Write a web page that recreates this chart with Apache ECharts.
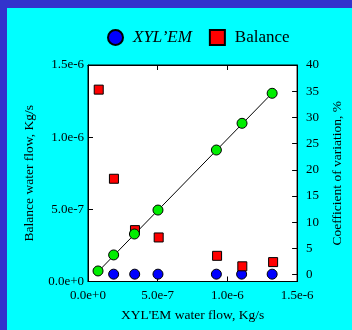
<!DOCTYPE html>
<html>
<head>
<meta charset="utf-8">
<script src="https://cdn.jsdelivr.net/npm/echarts@6/dist/echarts.min.js"></script>
<style>
html,body{margin:0;padding:0;background:#00ffff;}
#c{width:352px;height:330px;}
</style>
</head>
<body>
<div id="c"></div>
<script>
// XYL'EM flow vs balance flow (green, left axis)
const xylemFlow   = [0.072e-6, 0.184e-6, 0.333e-6, 0.502e-6, 0.921e-6, 1.105e-6, 1.321e-6];
const balanceFlow = [0.073e-6, 0.184e-6, 0.329e-6, 0.495e-6, 0.911e-6, 1.096e-6, 1.304e-6];
// regression line endpoints
const fitX = [0.070e-6, 1.321e-6];
const fitY = [0.066e-6, 1.305e-6];
// coefficient of variation (right axis)
const xylemCvX = [0.184e-6, 0.335e-6, 0.502e-6, 0.921e-6, 1.102e-6, 1.321e-6];
const xylemCv  = [0.1, 0.1, 0.1, 0.1, 0.1, 0.1];
const balanceCvX = [0.077e-6, 0.186e-6, 0.337e-6, 0.507e-6, 0.926e-6, 1.107e-6, 1.328e-6];
const balanceCv  = [35.3, 18.3, 8.5, 7.1, 3.6, 1.6, 2.4];
const rightTicks = [0, 5, 10, 15, 20, 25, 30, 35, 40];

const FONT = 'Liberation Serif';
const zip = (a, b) => a.map((v, i) => [v, b[i]]);
const expFmt = v => v.toExponential(1);

const chart = echarts.init(document.getElementById('c'), null, {renderer: 'canvas'});
chart.setOption({
  backgroundColor: '#00ffff',
  animation: false,
  textStyle: {fontFamily: FONT, color: '#000'},
  graphic: [
    {type: 'rect', shape: {x: 0, y: 0, width: 352, height: 8}, style: {fill: '#3333cc'}},
    {type: 'rect', shape: {x: 0, y: 0, width: 7, height: 330}, style: {fill: '#3333cc'}}
  ],
  legend: {
    left: 102, top: 24,
    itemWidth: 15, itemHeight: 15, itemGap: 17,
    textStyle: {fontFamily: FONT, fontSize: 17, color: '#000', padding: [0, 0, 0, 5]},
    data: [
      {name: 'XYL\u2019EM', icon: 'circle', textStyle: {fontStyle: 'italic'}},
      {name: 'Balance', icon: 'rect'}
    ]
  },
  grid: {left: 88, right: 49, top: 65, bottom: 48.5, containLabel: false,
         show: true, backgroundColor: '#ffffff', borderColor: '#000', borderWidth: 1},
  xAxis: [{
    type: 'value', min: 0, max: 1.5e-6, interval: 5e-7,
    name: 'XYL\'EM water flow, Kg/s', nameLocation: 'middle', nameGap: 27,
    nameTextStyle: {fontFamily: FONT, fontSize: 13.5, color: '#000'},
    axisLine: {show: true, onZero: false, lineStyle: {color: '#000', width: 1}},
    axisTick: {show: true, inside: true, length: 5, lineStyle: {color: '#000'}},
    axisLabel: {formatter: expFmt, fontFamily: FONT, fontSize: 13, color: '#000', margin: 8},
    splitLine: {show: false}
  }, {
    type: 'value', min: 0, max: 1.5e-6, interval: 5e-7, position: 'top',
    axisLine: {show: true, onZero: false, lineStyle: {color: '#000', width: 1}},
    axisTick: {show: true, inside: true, length: 5, lineStyle: {color: '#000'}},
    axisLabel: {show: false}, splitLine: {show: false}
  }],
  yAxis: [{
    type: 'value', min: 0, max: 1.5e-6, interval: 5e-7,
    name: 'Balance water flow, Kg/s', nameLocation: 'middle', nameGap: 52, nameRotate: 90,
    nameTextStyle: {fontFamily: FONT, fontSize: 13.5, color: '#000'},
    axisLine: {show: true, onZero: false, lineStyle: {color: '#000', width: 1}},
    axisTick: {show: true, inside: true, length: 5, lineStyle: {color: '#000'}},
    axisLabel: {formatter: expFmt, fontFamily: FONT, fontSize: 13, color: '#000', margin: 4},
    splitLine: {show: false}
  }, {
    type: 'value', min: -1.3, max: 40, position: 'right',
    name: 'Coefficient of variation, %', nameLocation: 'middle', nameGap: 30, nameRotate: 90,
    nameTextStyle: {fontFamily: FONT, fontSize: 13.5, color: '#000'},
    axisLine: {show: true, onZero: false, lineStyle: {color: '#000', width: 1}},
    axisTick: {show: true, inside: true, length: 5, lineStyle: {color: '#000'}, customValues: rightTicks},
    axisLabel: {fontFamily: FONT, fontSize: 13, color: '#000', margin: 9, customValues: rightTicks},
    splitLine: {show: false}
  }],
  series: [{
    name: 'fit', type: 'line', xAxisIndex: 0, yAxisIndex: 0,
    data: zip(fitX, fitY), showSymbol: false, symbol: 'none',
    lineStyle: {color: '#000', width: 1}, z: 2, silent: true
  }, {
    name: 'XYL\u2019EM', type: 'scatter', xAxisIndex: 0, yAxisIndex: 1,
    data: zip(xylemCvX, xylemCv), symbol: 'circle', symbolSize: 10,
    itemStyle: {color: '#0000ff', borderColor: '#000', borderWidth: 1, opacity: 1}, z: 3
  }, {
    name: 'Balance', type: 'scatter', xAxisIndex: 0, yAxisIndex: 1,
    data: zip(balanceCvX, balanceCv), symbol: 'rect', symbolSize: 9,
    itemStyle: {color: '#ff0000', borderColor: '#000', borderWidth: 1, opacity: 1}, z: 3
  }, {
    name: 'flow', type: 'scatter', xAxisIndex: 0, yAxisIndex: 0,
    data: zip(xylemFlow, balanceFlow), symbol: 'circle', symbolSize: 10,
    itemStyle: {color: '#00ee00', borderColor: '#000', borderWidth: 1, opacity: 1}, z: 4
  }]
});
</script>
</body>
</html>
